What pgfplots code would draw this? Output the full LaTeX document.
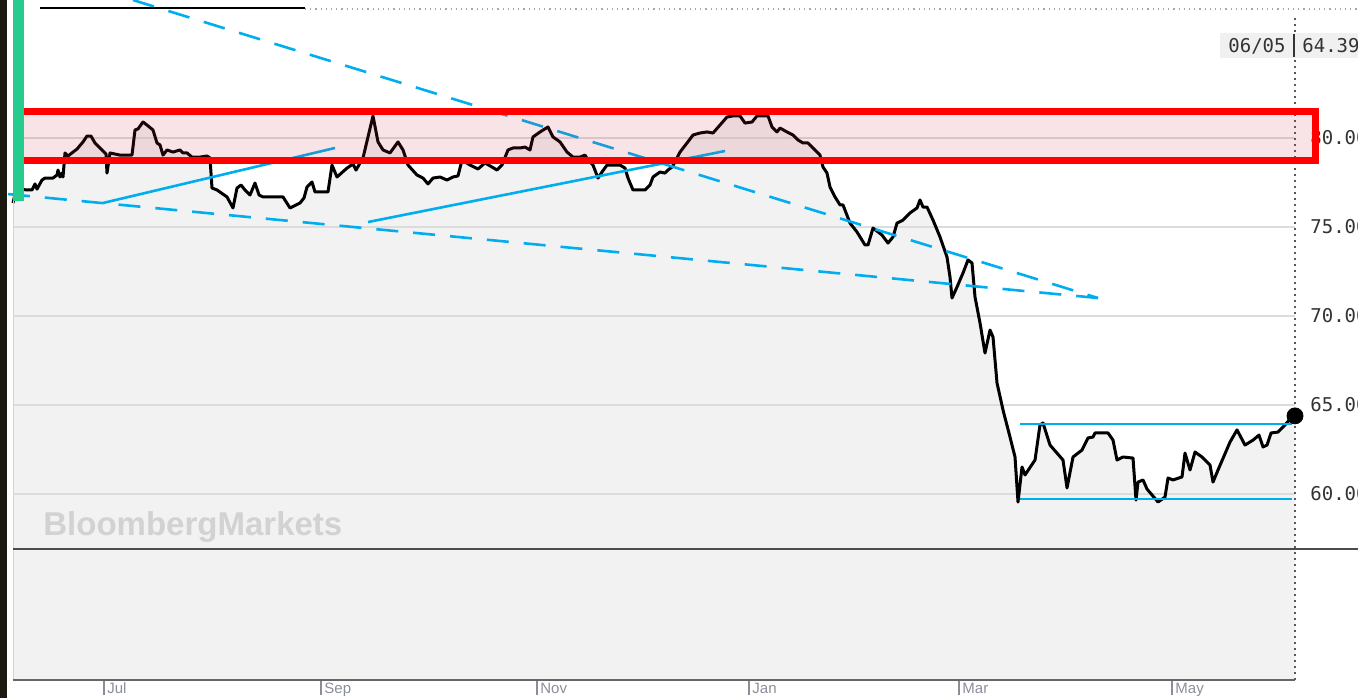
\documentclass[border=0pt]{standalone}
\usepackage{pgfplots}
\pgfplotsset{compat=1.18}
\usepackage{pgfplotstable}
\usepgfplotslibrary{fillbetween}
\usepackage{fontspec}
\setmainfont{Liberation Sans}
\newfontfamily\monofont{DejaVu Sans Mono}

\definecolor{panel}{HTML}{F2F2F2}
\definecolor{gridc}{HTML}{DCDCDC}
\definecolor{trend}{HTML}{00AEEF}
\definecolor{strip}{HTML}{1C1A10}
\definecolor{greenbar}{HTML}{26CB8E}
\definecolor{tickc}{HTML}{8A8E9A}
\definecolor{labc}{HTML}{333333}
\definecolor{wm}{HTML}{D2D2D2}
\definecolor{bandfill}{HTML}{C8283C}

% price, x in chart pixels (Jul tick at 104), y in price units
\pgfplotstableread{
x y
13 76.35
16 77.08
20 77.13
27 77.08
32 77.08
35 77.42
37 77.13
42 77.64
45 77.75
53 77.75
57 77.92
58 78.20
60 77.81
62 78.03
63 77.81
65 79.16
68 78.99
77 79.38
83 79.78
87 80.11
91 80.11
95 79.72
100 79.44
106 79.10
107 78.03
110 79.16
120 79.04
132 79.04
135 80.45
138 80.51
143 80.90
147 80.73
153 80.45
157 79.72
160 79.61
163 79.04
167 79.33
173 79.21
180 79.33
183 79.16
187 79.16
192 78.93
200 78.93
207 78.99
210 78.88
212 77.19
217 77.08
227 76.69
233 76.07
237 77.19
241 77.36
245 77.08
250 76.80
255 77.47
259 76.80
263 76.69
273 76.69
283 76.69
290 76.07
300 76.35
304 76.63
307 77.25
312 77.53
315 76.97
328 76.97
332 78.48
337 77.81
347 78.31
353 78.54
356 78.20
363 78.88
368 80.06
373 81.24
378 79.78
383 79.33
390 79.16
398 79.78
403 79.33
408 78.48
417 77.92
423 77.75
428 77.42
433 77.75
440 77.81
447 77.64
453 77.81
458 77.87
462 78.76
470 78.48
478 78.26
485 78.60
492 78.37
497 78.20
502 78.48
508 79.33
513 79.44
520 79.44
525 79.49
530 79.33
533 80.06
540 80.34
548 80.62
553 80.06
560 79.78
567 79.21
573 78.93
580 78.93
585 79.04
588 78.76
593 78.48
598 77.75
602 78.09
607 78.48
620 78.48
625 78.31
628 77.75
633 77.08
645 77.08
650 77.36
653 77.81
660 78.09
665 78.03
668 78.20
672 78.37
675 78.65
680 79.21
687 79.72
693 80.17
700 80.28
707 80.34
713 80.28
720 80.73
727 81.18
733 81.24
740 81.24
745 80.84
752 80.90
757 81.24
768 81.24
772 80.62
777 80.34
780 80.56
787 80.34
793 80.17
798 79.89
803 79.72
808 79.72
813 79.44
820 79.04
823 78.37
827 78.03
830 77.25
835 76.69
840 76.24
843 76.24
850 75.22
857 74.72
865 73.99
868 73.99
873 74.94
882 74.55
888 74.10
893 74.44
897 75.22
903 75.39
910 75.79
917 76.07
920 76.52
923 76.12
927 76.12
933 75.39
940 74.44
947 73.31
950 72.19
952 71.01
957 71.63
963 72.42
968 73.15
972 72.98
975 71.07
980 69.61
985 67.92
990 69.21
993 68.82
997 66.24
1003 64.72
1010 63.20
1015 62.08
1018 59.55
1022 61.52
1025 61.07
1035 61.91
1040 63.88
1043 63.99
1050 62.75
1063 61.91
1067 60.34
1073 62.08
1082 62.47
1088 63.15
1093 63.20
1095 63.43
1108 63.43
1113 63.03
1117 61.91
1123 62.08
1133 62.02
1136 59.66
1138 60.67
1143 60.79
1147 60.28
1158 59.55
1165 59.83
1168 60.90
1173 60.79
1182 60.96
1185 62.30
1190 61.35
1195 62.36
1202 62.08
1210 61.63
1213 60.67
1218 61.35
1230 62.92
1237 63.60
1245 62.75
1253 63.03
1259 63.31
1263 62.64
1267 62.75
1271 63.43
1278 63.48
1283 63.76
1292 64.33
1295 64.39
}\price

\begin{document}
\begin{tikzpicture}
\begin{axis}[
    set layers,
    scale only axis,
    width=641pt, height=340pt,
    xmin=13, xmax=1295,
    ymin=49.551, ymax=87.753,
    clip=false,
    axis line style={draw=none},
    xtick={104,321,537,749,959,1172},
    xticklabels={Jul,Sep,Nov,Jan,Mar,May},
    ytick={60,65,70,75,80},
    xtick pos=bottom, ytick pos=right,
    tick align=outside,
    major tick length=7.5pt,
    x tick style={tickc, line width=0.7pt},
    y tick style={draw=none},
    xticklabel style={font=\fontsize{7.5}{8}\selectfont, text=tickc,
        anchor=north west, inner sep=0pt, xshift=1.5pt, yshift=6.2pt},
    yticklabel style={font=\monofont\fontsize{9.5}{10}\selectfont, text=labc,
        anchor=west, inner sep=0pt, xshift=0pt},
    yticklabel={\pgfmathprintnumber[fixed,fixed zerofill,precision=2]{\tick}},
    /pgf/number format/assume math mode=true,
    ymajorgrids,
    grid style={gridc, line width=0.6pt},
]
% shaded area under the price
\addplot[draw=none, name path=price, forget plot] table {\price};
\path[name path=base] (axis cs:13,49.551) -- (axis cs:1295,49.551);
\addplot[fill=panel, draw=none] fill between[of=price and base, on layer=axis background];

% dotted right edge of the plot panel
\draw[black!65, dotted, line width=1pt] (axis cs:1295,86.74) -- (axis cs:1295,49.551);

\addplot[black, line width=1.5pt, line join=round] table {\price};

% trend lines
\addplot[trend, line width=1.3pt, dash pattern=on 11pt off 7.5pt]
    coordinates {(133,87.75) (1098,71.01)};
\addplot[trend, line width=1.3pt, dash pattern=on 11pt off 7.5pt]
    coordinates {(8,76.85) (1098,71.01)};
\addplot[trend, line width=1.3pt] coordinates {(103,76.35) (335,79.44)};
\addplot[trend, line width=1.3pt] coordinates {(368,75.28) (725,79.27)};
\addplot[trend, line width=1.3pt] coordinates {(1020,63.93) (1292,63.93)};
\addplot[trend, line width=1.3pt] coordinates {(1020,59.72) (1292,59.72)};

% resistance band
\draw[red, line width=3.5pt, fill=bandfill, fill opacity=0.13]
    (axis cs:16.5,78.76) rectangle (axis cs:1315,81.49);

% last price
\addplot[only marks, mark=*, mark size=4pt,
    mark options={draw=black, fill=black}] coordinates {(1295,64.39)};
\end{axis}

\pgfresetboundingbox
\begin{scope}[shift={(-6.5pt,340pt)}, x=0.5pt, y=-0.5pt]
\path[use as bounding box] (0,0) rectangle (1358,698);
\fill[strip] (0,0) rectangle (7,698);
\fill[greenbar] (13,0) rectangle (24,201);
\draw[greenbar!40, line width=0.5pt] (13,201) -- (13,680);
% header rules
\draw[black, line width=1pt] (40,8) -- (305,8);
\draw[gray!70, dotted, line width=0.6pt] (305,9) -- (1358,9);
% last value box
\fill[black!6] (1220,33) rectangle (1358,58);
\draw[labc, line width=1pt] (1294,34) -- (1294,57);
\node[font=\monofont\fontsize{9.5}{10}\selectfont, text=labc, inner sep=0pt] at (1257,46) {06/05};
\node[font=\monofont\fontsize{9.5}{10}\selectfont, text=labc, inner sep=0pt, anchor=west] at (1302,46) {64.39};
% panel rules
\draw[black!70, line width=0.8pt] (13,549) -- (1358,549);
\draw[black!60, line width=1pt] (13,680) -- (1295,680);
\node[anchor=base west, inner sep=0pt, text=wm, font=\bfseries\fontsize{16.5}{18}\selectfont] at (43,535) {BloombergMarkets};
\end{scope}
\end{tikzpicture}
\end{document}
